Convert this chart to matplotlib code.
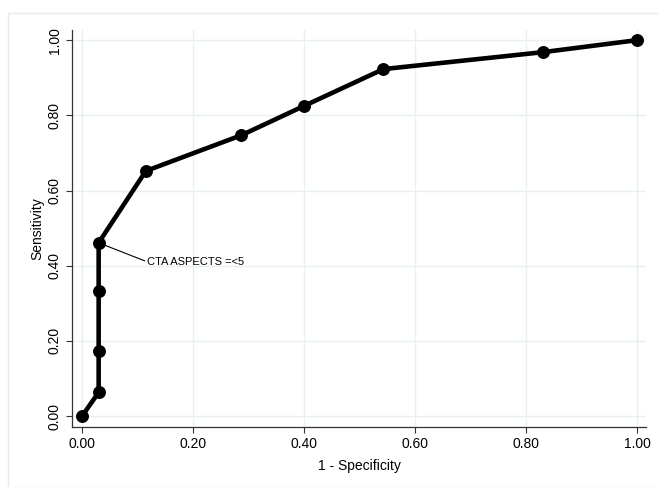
import matplotlib

matplotlib.use("Agg")
import matplotlib.pyplot as plt
from matplotlib.patches import Rectangle

# ROC curve points (1 - specificity, sensitivity)
fpr = [0.0, 0.030, 0.030, 0.030, 0.030, 0.115, 0.287, 0.400, 0.543, 0.830, 1.0]
tpr = [0.0, 0.063, 0.174, 0.332, 0.461, 0.652, 0.747, 0.825, 0.923, 0.968, 1.0]
ticks = [0.0, 0.2, 0.4, 0.6, 0.8, 1.0]
tick_labels = ["0.00", "0.20", "0.40", "0.60", "0.80", "1.00"]
cut_label = "CTA ASPECTS =<5"
cut_idx = 4

plt.rcParams["font.family"] = ["Liberation Sans", "DejaVu Sans"]

fig = plt.figure(figsize=(6.58, 4.87), dpi=100)
fig.patches.append(Rectangle((8 / 658, 0), 1, 1 - 13 / 487, transform=fig.transFigure,
                             fill=False, edgecolor="#e4ecee", linewidth=1))
ax = fig.add_axes([72 / 658, 1 - 427 / 487, (646 - 72) / 658, (427 - 30) / 487])

ax.plot(fpr, tpr, color="black", linewidth=3.3, marker="o", markersize=8.3,
        solid_joinstyle="round", zorder=3)
ax.annotate(cut_label, xy=(fpr[cut_idx], tpr[cut_idx]), xytext=(0.118, 0.41),
            fontsize=8, va="center", ha="left",
            arrowprops=dict(arrowstyle="-", color="black", linewidth=0.8,
                            shrinkA=0, shrinkB=0, relpos=(0, 0.5)))

ax.set_xlim(-0.018, 1.016)
ax.set_ylim(-0.029, 1.027)
ax.set_xticks(ticks)
ax.set_xticklabels(tick_labels, fontsize=10)
ax.set_yticks(ticks)
ax.set_yticklabels(tick_labels, fontsize=10, rotation=90, va="center")
ax.grid(True, color="#e8f0f2", linewidth=1)
ax.set_axisbelow(True)
for side in ("top", "right"):
    ax.spines[side].set_visible(False)
for side in ("left", "bottom"):
    ax.spines[side].set_color("#333333")
    ax.spines[side].set_linewidth(0.9)
ax.tick_params(direction="out", length=4, width=0.8, color="#333333")
ax.set_xlabel("1 - Specificity", fontsize=10, labelpad=5.5)
ax.set_ylabel("Sensitivity", fontsize=10, labelpad=2)

fig.savefig("out.png", dpi=100)
